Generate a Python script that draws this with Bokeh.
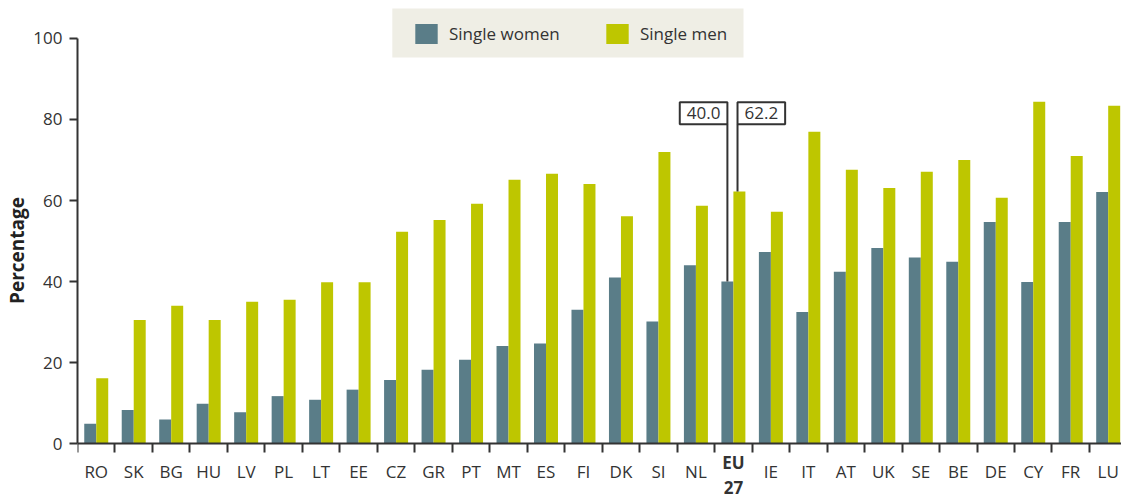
import numpy as np
from bokeh.plotting import figure
from bokeh.models import (Range1d, FixedTicker, Legend, LegendItem, Label,
                          BoxAnnotation, ColumnDataSource)
from bokeh.embed import file_html
from bokeh.resources import INLINE

countries = ["RO", "SK", "BG", "HU", "LV", "PL", "LT", "EE", "CZ", "GR", "PT",
             "MT", "ES", "FI", "DK", "SI", "NL", "EU 27", "IE", "IT", "AT", "UK",
             "SE", "BE", "DE", "CY", "FR", "LU"]
women = [4.9, 8.3, 5.9, 9.8, 7.7, 11.7, 10.8, 13.3, 15.7, 18.2, 20.7, 24.1,
         24.7, 33.0, 41.0, 30.1, 44.0, 40.0, 47.3, 32.5, 42.4, 48.3, 45.9,
         44.9, 54.7, 39.9, 54.7, 62.1]
men = [16.1, 30.5, 34.0, 30.5, 35.0, 35.5, 39.8, 39.8, 52.3, 55.2, 59.2, 65.1,
       66.6, 64.1, 56.1, 72.0, 58.7, 62.2, 57.2, 77.0, 67.6, 63.1, 67.1, 70.0,
       60.7, 84.4, 71.0, 83.4]
y_ticks = [0, 20, 40, 60, 80, 100]
series_names = ["Single women", "Single men"]
highlight = "EU 27"

WOMEN_C = "#5a7d88"
MEN_C = "#bec600"
AX_C = "#333333"
FONT = "Open Sans"
FS = "17px"

n = len(countries)
centers = np.arange(n) + 0.5
bw = 0.32
src = ColumnDataSource(dict(xw=centers - bw / 2, xm=centers + bw / 2,
                            women=women, men=men))

p = figure(width=1121, height=500, output_backend="svg", toolbar_location=None,
           x_range=Range1d(0, 27.855), y_range=Range1d(-14.07, 109.38),
           min_border_left=77, min_border_right=0, min_border_top=0,
           min_border_bottom=0)
p.outline_line_color = None
p.grid.visible = False
p.background_fill_color = "white"

# legend background
p.add_layout(BoxAnnotation(left=8.40, right=17.77, top=107.4, bottom=95.3,
                           fill_color="#efeee5", fill_alpha=1, line_color=None))

rw = p.vbar(x="xw", top="women", width=bw, bottom=0, source=src,
            fill_color=WOMEN_C, line_color=None)
rm = p.vbar(x="xm", top="men", width=bw, bottom=0, source=src,
            fill_color=MEN_C, line_color=None)

# x axis at y = 0: labels at centers, tick marks at category boundaries
xa = p.xaxis[0]
xa.fixed_location = 0
xa.ticker = FixedTicker(ticks=list(centers), minor_ticks=list(range(n + 1)))
xa.major_label_overrides = {float(c): ("" if k == highlight else k)
                            for c, k in zip(centers, countries)}
xa.major_tick_out = 0
xa.major_tick_in = 0
xa.minor_tick_out = 9
xa.minor_tick_in = 0
xa.minor_tick_line_width = 2
xa.minor_tick_line_color = AX_C
xa.axis_line_width = 2
xa.axis_line_color = AX_C
xa.major_label_standoff = 7
xa.major_label_text_font = FONT
xa.major_label_text_font_size = FS
xa.major_label_text_color = AX_C

ya = p.yaxis[0]
ya.ticker = FixedTicker(ticks=y_ticks, minor_ticks=[])
ya.bounds = (0, 100)
ya.major_tick_out = 8
ya.major_tick_in = 0
ya.major_tick_line_width = 2
ya.major_tick_line_color = AX_C
ya.axis_line_width = 2
ya.axis_line_color = AX_C
ya.major_label_standoff = 7
ya.major_label_text_font = FONT
ya.major_label_text_font_size = FS
ya.major_label_text_color = AX_C
ya.axis_label = "Percentage"
ya.axis_label_text_font = FONT
ya.axis_label_text_font_style = "bold"
ya.axis_label_text_font_size = "19px"
ya.axis_label_text_color = "#222222"
ya.axis_label_standoff = 0

# bold two-line label for EU 27
hi = countries.index(highlight)
top_word, bottom_word = highlight.split(" ")
p.add_layout(Label(x=centers[hi], y=-1.73, text=top_word, text_align="center",
                   text_baseline="top", text_font=FONT, text_font_size=FS,
                   text_font_style="bold", text_color=AX_C))
p.add_layout(Label(x=centers[hi], y=-9.3, text=bottom_word, text_align="center",
                   text_baseline="top", text_font=FONT, text_font_size=FS,
                   text_font_style="bold", text_color=AX_C))

# flag annotations for EU 27
flag_y = 78.8
xw_eu = centers[hi] - bw / 2
xm_eu = centers[hi] + bw / 2 - 0.05
pad = dict(left=7, right=7, top=5, bottom=5)
p.segment(x0=[xw_eu, xm_eu], y0=[women[hi], men[hi]], x1=[xw_eu, xm_eu],
          y1=[flag_y, flag_y], line_color=AX_C, line_width=2)
p.add_layout(Label(x=xw_eu, y=flag_y, text=f"{women[hi]:.1f}", text_align="right",
                   text_baseline="bottom", text_font=FONT, text_font_size=FS,
                   text_color=AX_C, border_line_color=AX_C, border_line_width=2,
                   background_fill_color="white", padding=pad))
p.add_layout(Label(x=xm_eu, y=flag_y, text=f"{men[hi]:.1f}", text_align="left",
                   text_baseline="bottom", text_font=FONT, text_font_size=FS,
                   text_color=AX_C, border_line_color=AX_C, border_line_width=2,
                   background_fill_color="white", padding=pad))

legend = Legend(items=[LegendItem(label=series_names[0], renderers=[rw]),
                       LegendItem(label=series_names[1], renderers=[rm])],
                orientation="horizontal", location=(335, 454),
                glyph_width=28, glyph_height=25, label_standoff=9,
                label_width=154, spacing=0, padding=0, margin=0,
                background_fill_alpha=0, border_line_alpha=0,
                label_text_font=FONT, label_text_font_size=FS,
                label_text_color=AX_C)
p.add_layout(legend)

open("out.html", "w").write(file_html(p, INLINE))
